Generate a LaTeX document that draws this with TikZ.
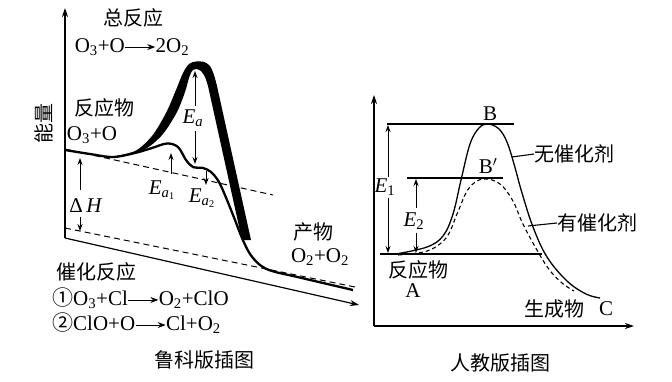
\documentclass[tikz,border=0pt]{standalone}
\usepackage{fontspec}
\setmainfont{Liberation Serif}
\newfontfamily\cjk{Noto Sans CJK SC}
\usetikzlibrary{arrows.meta}
\newcommand{\rarr}{\tikz[baseline=-0.55ex]\draw[line width=0.9pt,-{Stealth[length=8pt,width=6pt]}] (0pt,0pt) -- (30pt,0pt);}
\begin{document}
\begin{tikzpicture}[x=1pt,y=-1pt,
  lat/.style={font=\fontsize{21}{24}\selectfont, inner sep=0pt},
  han/.style={font=\fontsize{20}{24}\selectfont\cjk, inner sep=0pt},
  axis/.style={line width=1.2pt,-{Stealth[length=9pt,width=6pt]}},
  arr/.style={line width=1pt,-{Stealth[length=7pt,width=5pt]}},
  lvl/.style={line width=1.2pt},
  dsh/.style={line width=1pt,dash pattern=on 6pt off 4pt},
]
\useasboundingbox (0,0) rectangle (672,381);
% ---------------- left diagram ----------------
\coordinate (LO) at (65,238);
\coordinate (LY) at (65,8);
\coordinate (LX) at (359,305);
\draw[axis] (LO) -- (LY);
\draw[axis] (LO) -- (LX);
\coordinate (d1a) at (65,149);
\coordinate (d1b) at (273,195);
\coordinate (d2a) at (65,228);
\coordinate (d2b) at (355,287);
\draw[dsh] (d1a) -- (d1b);
\draw[dsh] (d2a) -- (d2b);
% thick (uncatalysed) curve
\fill (110,157) -- plot[smooth,tension=0.5] coordinates {(110,157)(135,151)(152,136)(166,113)(176,90)(183,73)(189,64)(196,61.5)(204,62)(210,66)(214,75)(217,86)}
  -- (251,240) -- (242,240)
  -- plot[smooth,tension=0.5] coordinates {(208,86)(205,77)(201,71)(196,69)(192,71)(189,78)(185,92)(177,112)(163,134)(147,148)(127,155.5)(110,157)} -- cycle;
% thin (catalysed) curve
\draw[line width=2.3pt] plot[smooth,tension=0.55] coordinates {(65,150)(90,154)(113,157)(135,153)(152,148)(167,143.5)(178,147)(186,160)(193,167)(203,168)(211,172)(219,182)(227,200)(235,220)(242,238)(250,254)(260,265)(272,271)(300,277.6)(353,290)};
% labels
\node[han] (zfy) at (133,18) {总反应};
\node[lat] (eq0) at (132,47) {O\textsubscript{3}+O\rarr2O\textsubscript{2}};
\node[han,rotate=90] (nl) at (44,123) {能量};
\node[han] (fyw1) at (104,108) {反应物};
\node[lat] (o3o) at (92,135) {O\textsubscript{3}+O};
\node[lat] (dH) at (86,206) {Δ\,\textit{H}};
\node[lat] (Ea) at (193,118) {\textit{E}\textsubscript{\textit{a}}};
\node[lat] (Ea1) at (162,190) {\textit{E}\textsubscript{\textit{a}\textsubscript{1}}};
\node[lat] (Ea2) at (202,198) {\textit{E}\textsubscript{\textit{a}\textsubscript{2}}};
\node[han] (cw) at (313,232) {产物};
\node[lat] (o2o2) at (320,257) {O\textsubscript{2}+O\textsubscript{2}};
\node[han] (chf) at (96,272) {催化反应};
\node[lat,anchor=west] (r1) at (52,298) {{\cjk ①}O\textsubscript{3}+Cl\rarr O\textsubscript{2}+ClO};
\node[lat,anchor=west] (r2) at (52,323) {{\cjk ②}ClO+O\rarr Cl+O\textsubscript{2}};
\node[han] (cap1) at (204,360) {鲁科版插图};
% arrows
\coordinate (dh1) at (80,190); \coordinate (dh2) at (80,158);
\coordinate (dh3) at (80,217); \coordinate (dh4) at (80,231);
\draw[arr] (dh1) -- (dh2);
\draw[arr] (dh3) -- (dh4);
\coordinate (ea1) at (195,106); \coordinate (ea2) at (195,71);
\coordinate (ea3) at (195,131); \coordinate (ea4) at (195,164);
\draw[arr] (ea1) -- (ea2);
\draw[arr] (ea3) -- (ea4);
\coordinate (eb1) at (171,174); \coordinate (eb2) at (171,153);
\draw[arr] (eb1) -- (eb2);
\coordinate (ec1) at (206,171); \coordinate (ec2) at (206,185);
\draw[arr] (ec1) -- (ec2);
% ---------------- right diagram ----------------
\coordinate (RO) at (374,326);
\coordinate (RY) at (374,95);
\coordinate (RX) at (634,326);
\draw[axis] (RO) -- (RY);
\draw[axis] (RO) -- (RX);
\coordinate (lb1) at (387,124); \coordinate (lb2) at (514,124);
\coordinate (lp1) at (407,178); \coordinate (lp2) at (503,178);
\coordinate (lr1) at (380,254); \coordinate (lr2) at (542,254);
\draw[lvl] (lb1) -- (lb2);
\draw[lvl] (lp1) -- (lp2);
\draw[lvl] (lr1) -- (lr2);
\draw[line width=1.3pt] plot[smooth,tension=0.6] coordinates {(396,254)(427,247)(443,236)(453,214)(461,180)(470,144)(479,128)(488,124)(499,129)(507,142)(514,164)(522,193)(533,227)(547,257)(567,281)(586,294)(600,298)};
\draw[line width=1.1pt,dash pattern=on 4pt off 3pt] plot[smooth,tension=0.6] coordinates {(398,255)(427,251)(446,238)(457,214)(467,191)(477,181)(487,179)(497,182)(505,189)(514,203)(522,222)(533,243)(548,268)(562,283)(574,291)};
\node[lat] (B) at (490,114) {B};
\node[lat] (Bp) at (488,166) {B$'$};
\node[han,anchor=west] (wcj) at (534,154) {无催化剂};
\node[han,anchor=west] (ycj) at (557,223) {有催化剂};
\coordinate (w1) at (512,157);
\coordinate (y1) at (528,226);
\draw[line width=1.1pt] (w1) -- (wcj.west);
\draw[line width=1.1pt] (y1) -- (ycj.west);
\node[han] (fyw2) at (418,270) {反应物};
\node[lat] (A) at (413,291) {A};
\node[han] (scw) at (554,309) {生成物};
\node[lat] (C) at (606,309) {C};
\node[lat] (E1) at (385,187) {\textit{E}\textsubscript{1}};
\node[lat] (E2) at (414,221) {\textit{E}\textsubscript{2}};
\coordinate (f1) at (388,177); \coordinate (f2) at (388,125);
\coordinate (f3) at (388,198); \coordinate (f4) at (388,253);
\draw[arr] (f1) -- (f2);
\draw[arr] (f3) -- (f4);
\coordinate (g1) at (416,208); \coordinate (g2) at (416,179);
\coordinate (g3) at (416,233); \coordinate (g4) at (416,253);
\draw[arr] (g1) -- (g2);
\draw[arr] (g3) -- (g4);
\node[han] (cap2) at (500,363) {人教版插图};
\end{tikzpicture}
\end{document}
